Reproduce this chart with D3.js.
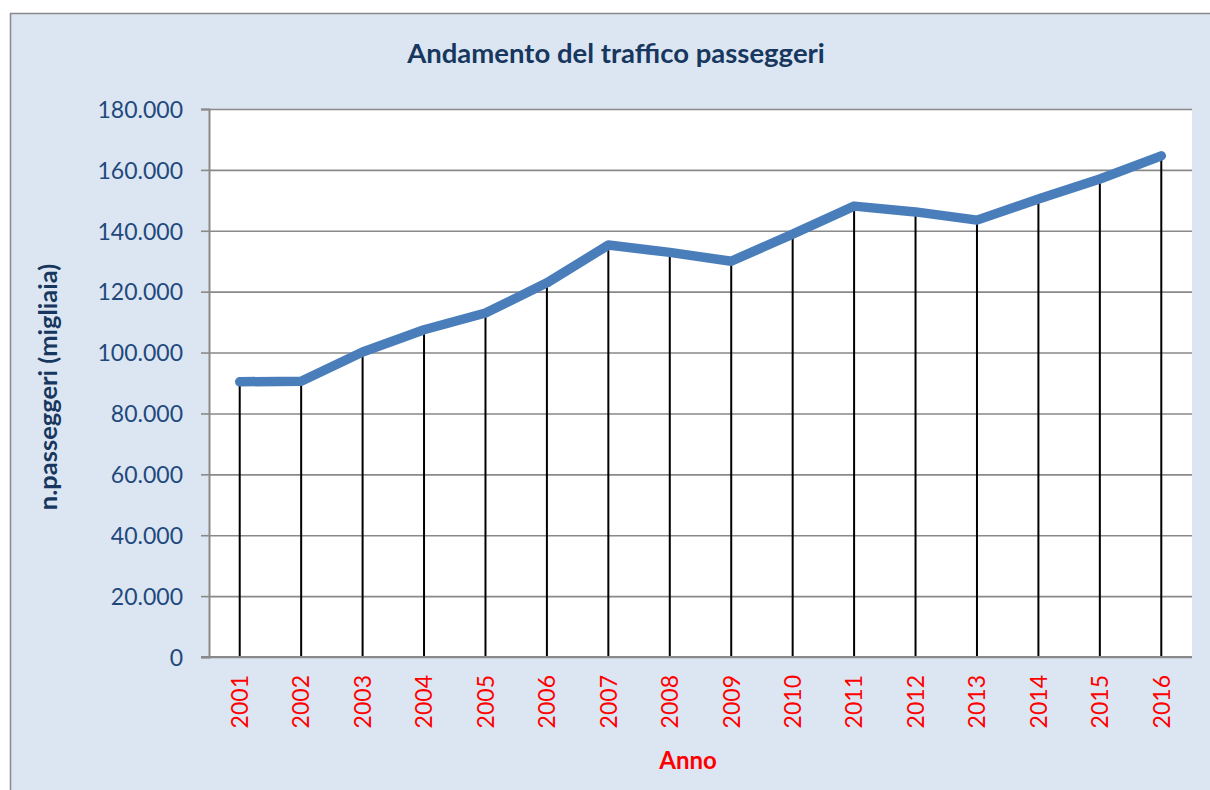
<!DOCTYPE html>
<html><head><meta charset="utf-8">
<script src="https://cdn.jsdelivr.net/npm/d3@7"></script>
<style>body{margin:0;background:#fff}svg{display:block}</style>
</head><body>
<svg id="c" width="1210" height="790"></svg>
<script>
const years = ["2001","2002","2003","2004","2005","2006","2007","2008","2009","2010","2011","2012","2013","2014","2015","2016"];
const passengers = [90400,90600,100200,107500,113000,122900,135300,132900,130000,138900,148100,146200,143500,150400,157000,164600];
const yTicks = [0,20000,40000,60000,80000,100000,120000,140000,160000,180000];
const titleText = "Andamento del traffico passeggeri";
const yTitle = "n.passeggeri (migliaia)";
const xTitle = "Anno";

const svg = d3.select("#c");
const FONT = "Lato, 'Open Sans', sans-serif";
const L = 209, R = 1192, T = 109, B = 657;

svg.append("rect").attr("x",10.5).attr("y",13.5).attr("width",1220).attr("height",800)
  .attr("fill","#dce6f2").attr("stroke","#898989").attr("stroke-width",1.5);
svg.append("rect").attr("x",L).attr("y",T).attr("width",R-L).attr("height",B-T).attr("fill","#fff");

const x = d3.scaleBand().domain(years).range([L,R]);
const cx = d => x(d) + x.bandwidth()/2;
const y = d3.scaleLinear().domain([0,180000]).range([B,T]);
const it = d3.formatLocale({decimal:",",thousands:".",grouping:[3],currency:["€",""]});
const fmt = it.format(",");

// gridlines
svg.append("g").attr("transform",`translate(${L},0)`)
  .call(d3.axisLeft(y).tickValues(yTicks).tickSize(-(R-L)).tickFormat(""))
  .call(g=>{g.select(".domain").remove();g.selectAll("line").attr("stroke","#898989").attr("stroke-width",1.6);});

// drop lines
svg.append("g").selectAll("line").data(years).join("line")
  .attr("x1",d=>cx(d)).attr("x2",d=>cx(d))
  .attr("y1",(d,i)=>y(passengers[i])).attr("y2",y(0))
  .attr("stroke","#000").attr("stroke-width",2);

// series line
const line = d3.line().x(d=>cx(d[0])).y(d=>y(d[1]));
svg.append("path").datum(years.map((d,i)=>[d,passengers[i]]))
  .attr("d",line).attr("fill","none").attr("stroke","#4a7ebb")
  .attr("stroke-width",9.5).attr("stroke-linecap","round").attr("stroke-linejoin","round");

// y axis
svg.append("g").attr("transform",`translate(${L},0)`)
  .call(d3.axisLeft(y).tickValues(yTicks).tickSize(8).tickPadding(18).tickFormat(fmt))
  .call(g=>{
    g.select(".domain").attr("stroke","#898989").attr("stroke-width",2);
    g.selectAll(".tick line").attr("stroke","#898989").attr("stroke-width",1.6);
    g.selectAll("text").attr("fill","#1f497d").style("font-family",FONT).style("font-size","23px").attr("dy","0.36em");
  });

// x axis
svg.append("g").attr("transform",`translate(0,${B})`)
  .call(d3.axisBottom(x).tickSize(0).tickFormat(d=>d))
  .call(g=>{
    g.select(".domain").attr("stroke","#898989").attr("stroke-width",2).attr("d",`M${L-8},0H${R}`);
    g.selectAll("text").attr("fill","#ff0000").style("font-family",FONT).style("font-size","23px")
      .attr("transform","rotate(-90)").attr("text-anchor","end")
      .attr("x",-18).attr("y",0).attr("dy","0.36em");
  });

svg.append("text").attr("x",616).attr("y",63).attr("text-anchor","middle")
  .attr("fill","#17375e").style("font-family",FONT).style("font-weight","bold").style("font-size","27.5px")
  .text(titleText);

svg.append("text").attr("transform","translate(57,387) rotate(-90)").attr("text-anchor","middle")
  .attr("fill","#17375e").style("font-family",FONT).style("font-weight","bold").style("font-size","25.5px")
  .text(yTitle);

svg.append("text").attr("x",688).attr("y",769).attr("text-anchor","middle")
  .attr("fill","#ff0000").style("font-family",FONT).style("font-weight","bold").style("font-size","24px")
  .text(xTitle);
</script>
</body></html>
